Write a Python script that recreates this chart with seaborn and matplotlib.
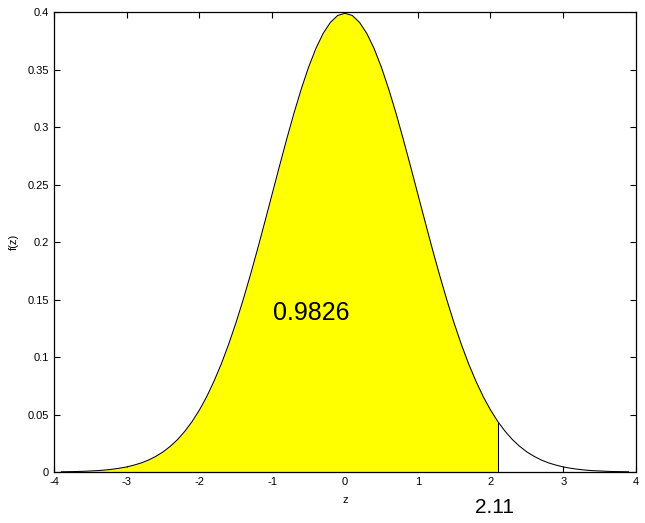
import seaborn as sns
import matplotlib.pyplot as plt
import numpy as np

sns.set_style('ticks')
plt.rcParams['font.family'] = ['Liberation Sans', 'DejaVu Sans']
plt.rcParams['axes.unicode_minus'] = False
plt.rcParams['text.color'] = 'black'
plt.rcParams['axes.labelcolor'] = 'black'
plt.rcParams['xtick.color'] = 'black'
plt.rcParams['ytick.color'] = 'black'

# density values, z from -3.9 to 3.9 in steps of 0.1
z = [-3.9, -3.8, -3.7, -3.6, -3.5, -3.4, -3.3, -3.2, -3.1, -3.0,
     -2.9, -2.8, -2.7, -2.6, -2.5, -2.4, -2.3, -2.2, -2.1, -2.0,
     -1.9, -1.8, -1.7, -1.6, -1.5, -1.4, -1.3, -1.2, -1.1, -1.0,
     -0.9, -0.8, -0.7, -0.6, -0.5, -0.4, -0.3, -0.2, -0.1, 0.0,
     0.1, 0.2, 0.3, 0.4, 0.5, 0.6, 0.7, 0.8, 0.9, 1.0,
     1.1, 1.2, 1.3, 1.4, 1.5, 1.6, 1.7, 1.8, 1.9, 2.0,
     2.1, 2.2, 2.3, 2.4, 2.5, 2.6, 2.7, 2.8, 2.9, 3.0,
     3.1, 3.2, 3.3, 3.4, 3.5, 3.6, 3.7, 3.8, 3.9]
fz = [0.0002, 0.0003, 0.0004, 0.0006, 0.0009, 0.0012, 0.0017, 0.0024, 0.0033, 0.0044,
      0.0060, 0.0079, 0.0104, 0.0136, 0.0175, 0.0224, 0.0283, 0.0355, 0.0440, 0.0540,
      0.0656, 0.0790, 0.0940, 0.1109, 0.1295, 0.1497, 0.1714, 0.1942, 0.2179, 0.2420,
      0.2661, 0.2897, 0.3123, 0.3332, 0.3521, 0.3683, 0.3814, 0.3910, 0.3970, 0.3989,
      0.3970, 0.3910, 0.3814, 0.3683, 0.3521, 0.3332, 0.3123, 0.2897, 0.2661, 0.2420,
      0.2179, 0.1942, 0.1714, 0.1497, 0.1295, 0.1109, 0.0940, 0.0790, 0.0656, 0.0540,
      0.0440, 0.0355, 0.0283, 0.0224, 0.0175, 0.0136, 0.0104, 0.0079, 0.0060, 0.0044,
      0.0033, 0.0024, 0.0017, 0.0012, 0.0009, 0.0006, 0.0004, 0.0003, 0.0002]

cut_z = 2.11
cut_f = 0.0430
area_label = '0.9826'
cut_label = '2.11'

z = np.array(z)
fz = np.array(fz)
mask = z < cut_z
fill_z = np.append(z[mask], cut_z)
fill_f = np.append(fz[mask], cut_f)

fig = plt.figure(figsize=(6.45, 5.23), dpi=100)
ax = fig.add_axes([0.0837, 0.0975, 0.9023, 0.8795])

ax.fill_between(fill_z, 0, fill_f, color='#ffff00', lw=0)
sns.lineplot(x=z, y=fz, color='black', linewidth=0.75, ax=ax)
ax.plot([cut_z, cut_z], [0, cut_f], color='black', linewidth=0.75)

ax.text(-0.47, 0.138, area_label, fontsize=18, ha='center', va='center')
ax.text(2.06, -0.031, cut_label, fontsize=15, ha='center', va='center', clip_on=False)

ax.set_xlim(-4, 4)
ax.set_ylim(0, 0.4)
ax.set_xticks(range(-4, 5))
ax.set_yticks([0, 0.05, 0.1, 0.15, 0.2, 0.25, 0.3, 0.35, 0.4])
ax.set_yticklabels(['0', '0.05', '0.1', '0.15', '0.2', '0.25', '0.3', '0.35', '0.4'])
ax.tick_params(direction='in', top=True, right=True, labelsize=8, length=4, width=0.8)
ax.set_xlabel('z', fontsize=8, labelpad=6)
ax.set_ylabel('f(z)', fontsize=8, labelpad=6)
for s in ax.spines.values():
    s.set_visible(True)
    s.set_linewidth(0.9)
    s.set_color('black')

fig.savefig('out.png', dpi=100)
